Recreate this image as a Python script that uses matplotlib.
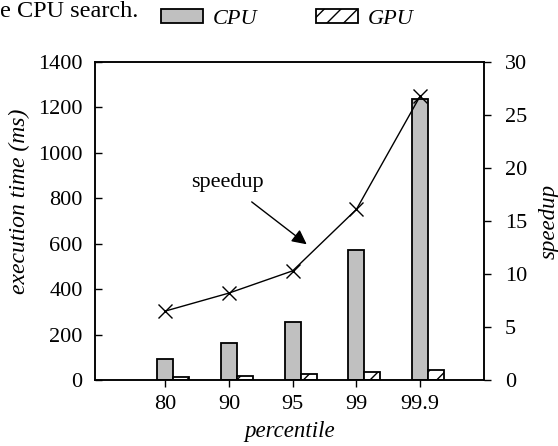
import numpy as np
import matplotlib
matplotlib.use("Agg")
import matplotlib.pyplot as plt

plt.rcParams['font.family'] = ['Liberation Serif', 'DejaVu Serif']
plt.rcParams['hatch.linewidth'] = 1.0

categories = ["80", "90", "95", "99", "99.9"]
cpu_ms = [92, 161, 257, 572, 1236]
gpu_ms = [12, 19, 25, 34, 44]
speedup = [6.5, 8.2, 10.3, 16.1, 26.8]

fig = plt.figure(figsize=(5.58, 4.46), dpi=100)
ax = fig.add_axes([95/558, 1-380/446, 389/558, 318/446])
ax2 = ax.twinx()

x = np.arange(len(categories))
w = 0.25
b1 = ax.bar(x, cpu_ms, width=w, color='#c0c0c0', edgecolor='black', linewidth=1.3, label='CPU', zorder=2)
b2 = ax.bar(x + w, gpu_ms, width=w, color='white', edgecolor='black', linewidth=1.3, hatch='//', label='GPU', zorder=2)

ax2.plot(x, speedup, color='black', lw=1.0, marker='x', markersize=10, mew=1.0, zorder=3)

ax.set_xlim(-1.1, 5.0)
ax.set_ylim(0, 1400)
ax.set_yticks(np.arange(0, 1401, 200))
ax2.set_ylim(0, 30)
ax2.set_yticks(np.arange(0, 31, 5))
ax.set_xticks(x)
ax.set_xticklabels(categories)

fs = 16
ax.tick_params(axis='y', direction='in', length=5, width=1, labelsize=fs, pad=9)
ax.tick_params(axis='x', direction='out', length=5, width=1, labelsize=fs, pad=6)
ax2.tick_params(axis='y', direction='out', length=5, width=1, labelsize=fs, pad=10)

for a in (ax, ax2):
    for s in a.spines.values():
        s.set_linewidth(1.1)

ax.set_ylabel('execution time (ms)', fontsize=17, style='italic')
ax.yaxis.set_label_coords(-0.167, 0.563)
ax2.set_ylabel('speedup', fontsize=16.5, style='italic')
ax2.yaxis.set_label_coords(1.14, 0.5)
ax.set_xlabel('percentile', fontsize=16.5, style='italic', labelpad=5)

ax2.annotate('speedup', xy=(2.22, 12.8), xytext=(0.97, 18.6), fontsize=fs,
             ha='center', va='center',
             arrowprops=dict(arrowstyle='-|>', mutation_scale=22, color='black', lw=1.0,
                             shrinkA=8, shrinkB=0))

fig.legend(handles=[b1, b2], labels=['CPU', 'GPU'], loc='center', bbox_to_anchor=(0.515, 0.958),
           ncol=2, frameon=False, handlelength=1.9, handleheight=0.6, handletextpad=0.45,
           columnspacing=2.6, prop=dict(size=fs, style='italic'))

fig.text(0.0, 1.0 - 1/446, 'e CPU search.', fontsize=17.5, va='top', ha='left')

fig.savefig('out.png', dpi=100)
